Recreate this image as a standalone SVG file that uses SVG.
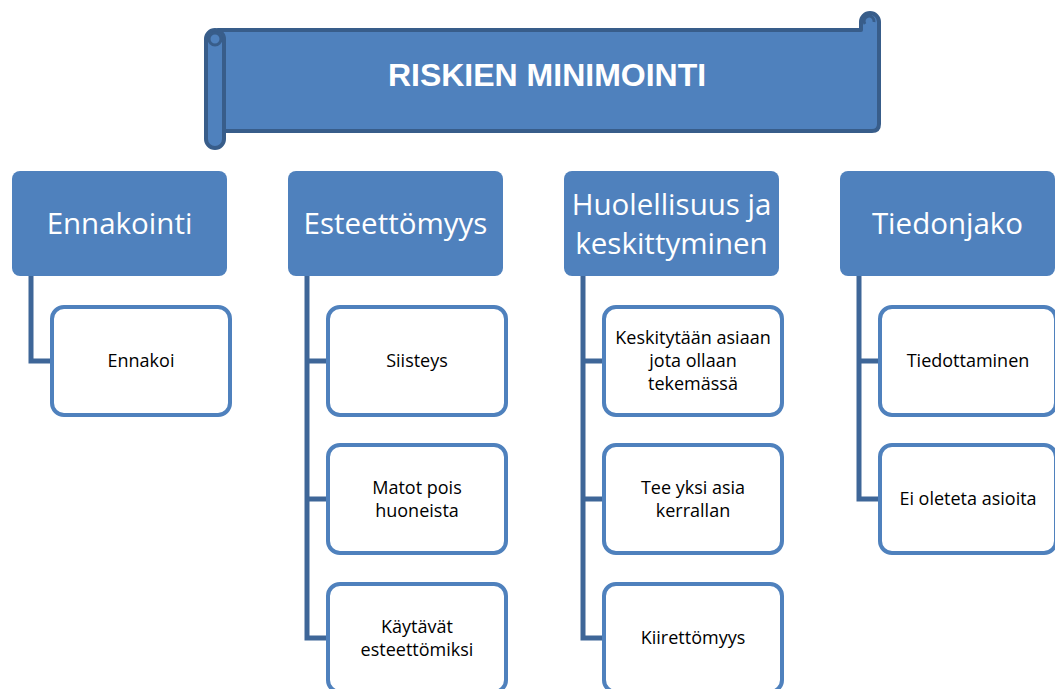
<svg xmlns="http://www.w3.org/2000/svg" width="1055" height="689" viewBox="0 0 1055 689">
  <style>
    .banner { fill: #4F81BD; stroke: #385D8A; stroke-width: 4; stroke-linejoin: round; }
    .title { font-family: "Liberation Sans", Arial, sans-serif; font-weight: bold; font-size: 32px; fill: #FFFFFF; text-anchor: middle; }
    .head rect { fill: #4F81BD; }
    .head text { font-family: "Open Sans", "Noto Sans", sans-serif; font-size: 29.5px; fill: #FFFFFF; text-anchor: middle; }
    .item rect { fill: #FFFFFF; stroke: #4F81BD; stroke-width: 4; }
    .item text { font-family: "Open Sans", "Noto Sans", sans-serif; font-size: 18px; fill: #000000; text-anchor: middle; }
    .links path { fill: none; stroke: #3E6698; stroke-width: 5; }
  </style>

  <!-- title scroll -->
  <g id="title">
    <path class="banner" d="M218,30 H861 V22 A9,9 0 0 1 879,22 V124 Q879,131 872,131 H218 Z"/>
    <path d="M865,24 A5,5 0 1 1 874,22" fill="none" stroke="#385D8A" stroke-width="3"/>
    <rect class="banner" x="206" y="30" width="18" height="118" rx="9"/>
    <circle cx="215" cy="39" r="6" fill="#4F81BD" stroke="#385D8A" stroke-width="3"/>
    <text class="title" x="547" y="86">RISKIEN MINIMOINTI</text>
  </g>

  <!-- connectors -->
  <g id="connectors" class="links">
    <path d="M31,276 V361 H52"/>
    <path d="M307,276 V638 H328 M307,361 H328 M307,499 H328"/>
    <path d="M583,276 V638 H604 M583,361 H604 M583,499 H604"/>
    <path d="M859,276 V499 H880 M859,361 H880"/>
  </g>

  <!-- column headers -->
  <g id="h-ennakointi" class="head">
    <rect x="12" y="171" width="215" height="105" rx="8"/>
    <text x="119.5" y="234">Ennakointi</text>
  </g>
  <g id="h-esteettomyys" class="head">
    <rect x="288" y="171" width="215" height="105" rx="8"/>
    <text x="395.5" y="234">Esteettömyys</text>
  </g>
  <g id="h-huolellisuus" class="head">
    <rect x="564" y="171" width="215" height="105" rx="8"/>
    <text x="671.5" y="215">Huolellisuus ja</text>
    <text x="671.5" y="254">keskittyminen</text>
  </g>
  <g id="h-tiedonjako" class="head">
    <rect x="840" y="171" width="215" height="105" rx="8"/>
    <text x="947.5" y="234">Tiedonjako</text>
  </g>

  <!-- items -->
  <g id="i-ennakoi" class="item">
    <rect x="52" y="307" width="178" height="108" rx="12"/>
    <text x="141" y="367">Ennakoi</text>
  </g>

  <g id="i-siisteys" class="item">
    <rect x="328" y="307" width="178" height="108" rx="12"/>
    <text x="417" y="367">Siisteys</text>
  </g>
  <g id="i-matot" class="item">
    <rect x="328" y="445" width="178" height="108" rx="12"/>
    <text x="417" y="494">Matot pois</text>
    <text x="417" y="517">huoneista</text>
  </g>
  <g id="i-kaytavat" class="item">
    <rect x="328" y="584" width="178" height="108" rx="12"/>
    <text x="417" y="633">Käytävät</text>
    <text x="417" y="656">esteettömiksi</text>
  </g>

  <g id="i-keskitytaan" class="item">
    <rect x="604" y="307" width="178" height="108" rx="12"/>
    <text x="693" y="344">Keskitytään asiaan</text>
    <text x="693" y="367">jota ollaan</text>
    <text x="693" y="390">tekemässä</text>
  </g>
  <g id="i-yksi-asia" class="item">
    <rect x="604" y="445" width="178" height="108" rx="12"/>
    <text x="693" y="494">Tee yksi asia</text>
    <text x="693" y="517">kerrallan</text>
  </g>
  <g id="i-kiirettomyys" class="item">
    <rect x="604" y="584" width="178" height="108" rx="12"/>
    <text x="693" y="644">Kiirettömyys</text>
  </g>

  <g id="i-tiedottaminen" class="item">
    <rect x="880" y="307" width="176" height="108" rx="12"/>
    <text x="968" y="367">Tiedottaminen</text>
  </g>
  <g id="i-ei-oleteta" class="item">
    <rect x="880" y="445" width="176" height="108" rx="12"/>
    <text x="968" y="505">Ei oleteta asioita</text>
  </g>
</svg>
